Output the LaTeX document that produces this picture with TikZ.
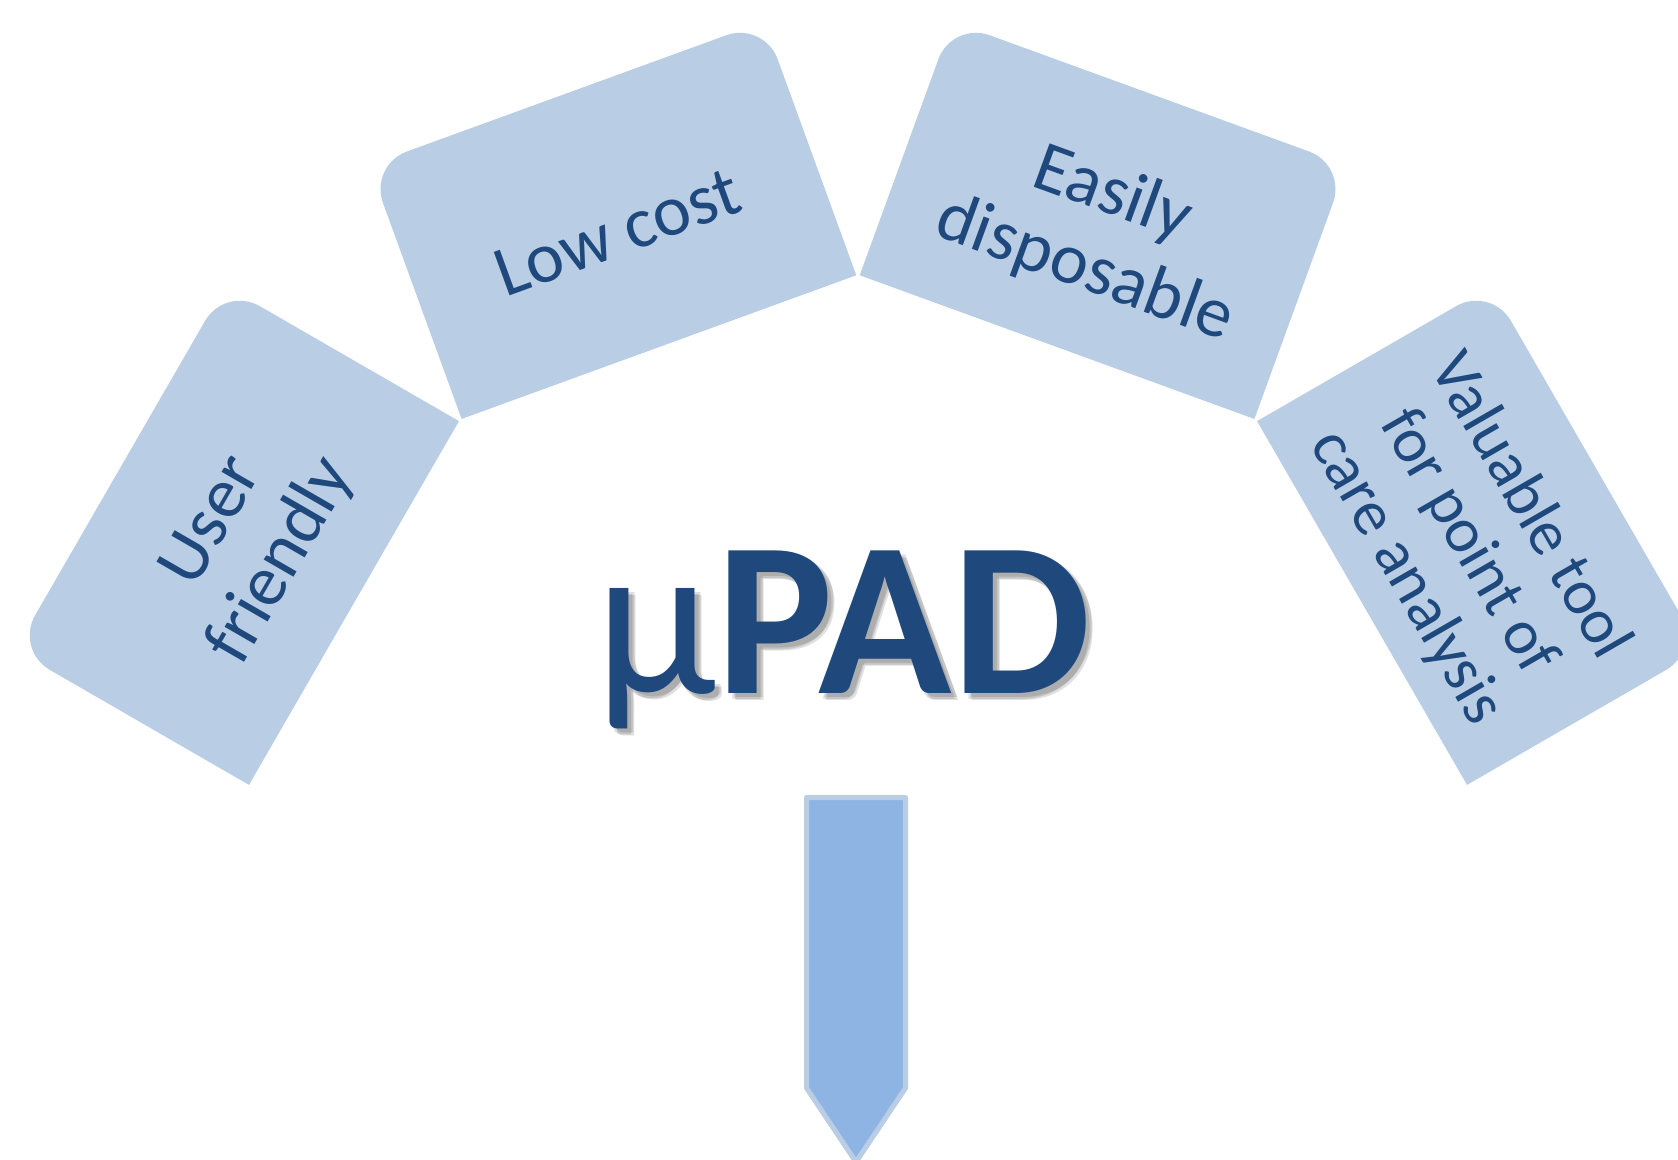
\documentclass[tikz,border=0pt]{standalone}
\usepackage{fontspec}
\setmainfont{Carlito}
\definecolor{boxfill}{HTML}{B9CDE5}
\definecolor{txtblue}{HTML}{1F497D}
\definecolor{arrowfill}{HTML}{8EB4E3}
\newcommand\featbox[6]{%
  \begin{scope}[shift={(#1:717)},rotate=#2]
    \fill[boxfill] (-210,-135) -- (-210,95) arc[start angle=180,end angle=90,radius=40pt]
      -- (170,135) arc[start angle=90,end angle=0,radius=40pt] -- (210,-135) -- cycle;
    \node[boxtext,font=\fontsize{#5}{#6}\selectfont] (#3) at (0,-13) {#4};
  \end{scope}}
\begin{document}
\begin{tikzpicture}[x=1pt,y=1pt,
  boxtext/.style={text=txtblue, align=center, inner sep=0pt, transform shape},
  titletext/.style={anchor=base, inner sep=0pt},
  arrowshape/.style={line width=5pt, draw=boxfill, fill=arrowfill, line join=round}]
\useasboundingbox (0,0) rectangle (1678,-1159);
\clip (0,0) rectangle (1678,-1159);
\begin{scope}[shift={(858,-894)}]
  \featbox{150}{60}{uf}{User\\friendly}{72}{80}
  \featbox{110}{20}{lc}{Low cost}{72}{80}
  \featbox{70}{-20}{ed}{Easily\\disposable}{72}{80}
  \featbox{30}{-60}{vt}{Valuable tool\\for point of\\care analysis}{64}{71}
\end{scope}
\newcommand\titlecontent{\fontsize{220}{230}\selectfont µ\textbf{PAD}}
\node[titletext, text=black, opacity=0.12] (sh1) at (849,-697) {\titlecontent};
\node[titletext, text=black, opacity=0.12] (sh2) at (847,-699) {\titlecontent};
\node[titletext, text=black, opacity=0.12] (sh3) at (850,-700) {\titlecontent};
\node[titletext, text=txtblue] (title) at (843,-693) {\titlecontent};
\draw[arrowshape] (806.5,-797.5) -- (905.5,-797.5) -- (905.5,-1088) -- (856,-1162) -- (806.5,-1088) -- cycle;
\end{tikzpicture}
\end{document}
